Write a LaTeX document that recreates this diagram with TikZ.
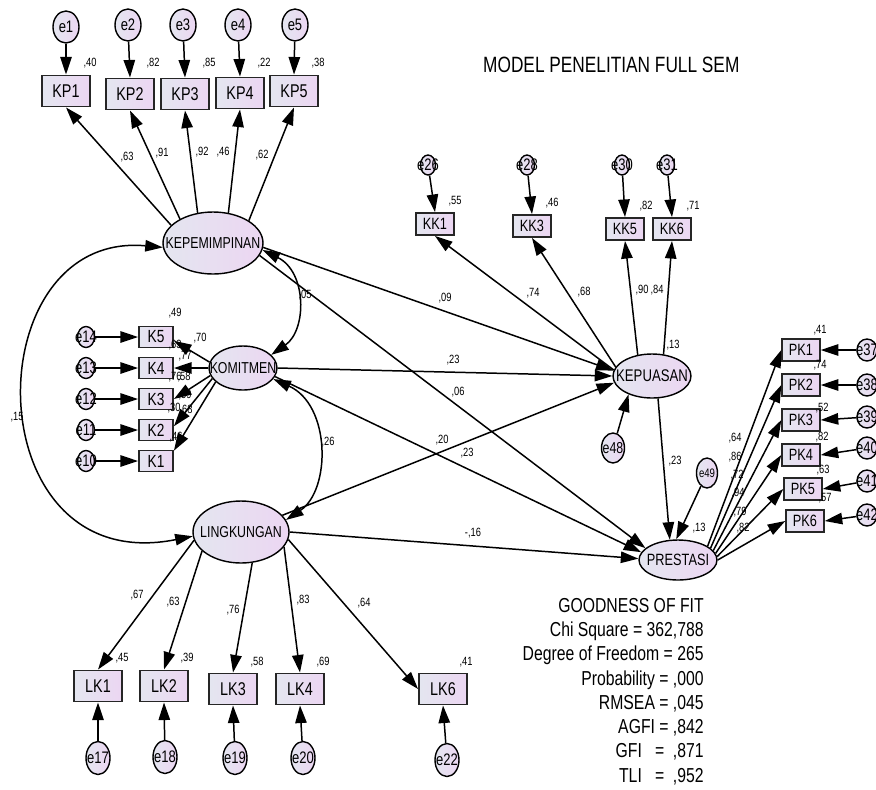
\documentclass[tikz,border=0pt]{standalone}
\usepackage{fontspec}
\setmainfont{Liberation Sans}[FakeStretch=0.78]
\usetikzlibrary{arrows.meta,positioning,shapes.geometric}

\definecolor{semL}{RGB}{228,230,240}
\definecolor{semR}{RGB}{236,214,242}
\newcommand{\nm}[1]{\makebox[0pt]{#1}}
\newcommand{\fs}[1]{\fontsize{#1}{#1}\selectfont}

\tikzset{
  lat/.style={ellipse, draw, line width=0.8pt, left color=semL, right color=semR, inner sep=0pt, font=\fs{9}},
  ind/.style={rectangle, draw=black!85, line width=1.1pt, left color=semL, right color=semR, inner sep=0pt},
  bigind/.style={ind, minimum width=0.96cm, minimum height=0.62cm, font=\fs{10.5}},
  smallind/.style={ind, minimum width=0.75cm, minimum height=0.44cm, font=\fs{9.3}},
  kind/.style={ind, minimum width=0.68cm, minimum height=0.42cm, font=\fs{10}},
  err/.style={ellipse, draw, line width=0.8pt, left color=semL, right color=semR, inner sep=0pt, minimum width=0.52cm, minimum height=0.64cm, font=\fs{9.5}},
  smallerr/.style={err, minimum width=0.34cm, minimum height=0.42cm},
  val/.style={inner sep=0pt, font=\fs{6.8}},
  reg/.style={-{Triangle[length=10pt,width=6.5pt]}, line width=0.85pt},
  cov/.style={{Triangle[length=10pt,width=6.5pt]}-{Triangle[length=10pt,width=6.5pt]}, line width=0.85pt},
}

\begin{document}
\begin{tikzpicture}[x=0.02cm, y=-0.02cm]
\clip (0,0) rectangle (876,789);

\node[anchor=west, font=\fs{12.6}] (title) at (477,65) {MODEL PENELITIAN FULL SEM};

% latent variables
\node[lat, minimum width=2cm, minimum height=1.24cm] (KEP) at (213,243) {\nm{KEPEMIMPINAN}};
\node[lat, minimum width=1.36cm, minimum height=0.88cm] (KOM) at (243,368) {\nm{KOMITMEN}};
\node[lat, minimum width=1.92cm, minimum height=1.24cm] (LING) at (241,532) {\nm{LINGKUNGAN}};
\node[lat, minimum width=1.56cm, minimum height=0.88cm, font=\fs{9.6}] (KEPU) at (652,376) {\nm{KEPUASAN}};
\node[lat, minimum width=1.56cm, minimum height=0.8cm, font=\fs{9.3}] (PRE) at (678,560) {\nm{PRESTASI}};

% kepemimpinan
\node[bigind] (KP1) at (66,91) {KP1};
\node[bigind] (KP2) at (130,94) {KP2};
\node[bigind] (KP3) at (185,94) {KP3};
\node[bigind] (KP4) at (240,93) {KP4};
\node[bigind] (KP5) at (294,91) {KP5};
\node[err] (e1) at (66,27) {\nm{e1}};
\node[err] (e2) at (128,25) {\nm{e2}};
\node[err] (e3) at (183,25) {\nm{e3}};
\node[err] (e4) at (238,25) {\nm{e4}};
\node[err] (e5) at (295,25) {\nm{e5}};
\draw[reg] (e1) -- (KP1.north);
\draw[reg] (e2) -- (KP2.north);
\draw[reg] (e3) -- (KP3.north);
\draw[reg] (e4) -- (KP4.north);
\draw[reg] (e5) -- (KP5.north);
\draw[reg] (KEP.157) -- (KP1.south);
\draw[reg] (KEP.144) -- (KP2.south);
\draw[reg] (KEP.117) -- (KP3.south);
\draw[reg] (KEP.63) -- (KP4.south);
\draw[reg] (KEP.32) -- (KP5.south);
\node[val] (rKP1) at (90,63) {,40};
\node[val] (rKP2) at (153,63) {,82};
\node[val] (rKP3) at (209,63) {,85};
\node[val] (rKP4) at (264,63) {,22};
\node[val] (rKP5) at (318,63) {,38};
\node[val] (lKP1) at (127,157) {,63};
\node[val] (lKP2) at (162,153) {,91};
\node[val] (lKP3) at (202,152) {,92};
\node[val] (lKP4) at (223,152) {,46};
\node[val] (lKP5) at (262,155) {,62};

% komitmen
\node[kind] (K5) at (156,337) {K5};
\node[kind] (K4) at (156,368) {K4};
\node[kind] (K3) at (156,399) {K3};
\node[kind] (K2) at (156,430) {K2};
\node[kind] (K1) at (156,461) {K1};
\node[smallerr] (e14) at (86,337) {\nm{e14}};
\node[smallerr] (e13) at (86,368) {\nm{e13}};
\node[smallerr] (e12) at (86,399) {\nm{e12}};
\node[smallerr] (e11) at (86,430) {\nm{e11}};
\node[smallerr] (e10) at (86,461) {\nm{e10}};
\draw[reg] (e14) -- (K5.west);
\draw[reg] (e13) -- (K4.west);
\draw[reg] (e12) -- (K3.west);
\draw[reg] (e11) -- (K2.west);
\draw[reg] (e10) -- (K1.west);
\draw[reg] (KOM.170) -- (K5.-12);
\draw[reg] (KOM.180) -- (K4.east);
\draw[reg] (KOM.193) -- (K3.east);
\draw[reg] (KOM.199) -- (K2.12);
\draw[reg] (KOM.207) -- (K1.30);
\node[val] (rK5) at (175,313) {,49};
\node[val] (lK5) at (200,338) {,70};
\node[val] (rK4) at (175,345) {,63};
\node[val] (lK4) at (185,356) {,77};
\node[val] (rK3) at (175,377) {,76};
\node[val] (lK3) at (184,377) {,58};
\node[val] (lK2) at (185,395) {,59};
\node[val] (rK2) at (174,408) {,30};
\node[val] (lK1) at (186,410) {,68};
\node[val] (rK1) at (176,437) {,46};

% lingkungan
\node[bigind] (LK1) at (98,686) {LK1};
\node[bigind] (LK2) at (164,686) {LK2};
\node[bigind] (LK3) at (233,689) {LK3};
\node[bigind] (LK4) at (300,689) {LK4};
\node[bigind] (LK6) at (443,689) {LK6};
\node[err, minimum width=0.48cm, minimum height=0.66cm] (e17) at (98,758) {\nm{e17}};
\node[err, minimum width=0.48cm, minimum height=0.66cm] (e18) at (165,757) {\nm{e18}};
\node[err, minimum width=0.48cm, minimum height=0.66cm] (e19) at (235,758) {\nm{e19}};
\node[err, minimum width=0.48cm, minimum height=0.66cm] (e20) at (303,758) {\nm{e20}};
\node[err, minimum width=0.48cm, minimum height=0.66cm] (e22) at (447,760) {\nm{e22}};
\draw[reg] (e17) -- (LK1.south);
\draw[reg] (e18) -- (LK2.south);
\draw[reg] (e19) -- (LK3.south);
\draw[reg] (e20) -- (LK4.south);
\draw[reg] (e22) -- (LK6.south);
\draw[reg] (LING.190) -- (LK1.north);
\draw[reg] (LING.206) -- (LK2.north);
\draw[reg] (LING.290) -- (LK3.north);
\draw[reg] (LING.341) -- (LK4.north);
\draw[reg] (LING.351) -- (LK6.west);
\node[val] (rLK1) at (122,658) {,45};
\node[val] (rLK2) at (187,658) {,39};
\node[val] (rLK3) at (257,662) {,58};
\node[val] (rLK4) at (323,662) {,69};
\node[val] (rLK6) at (466,662) {,41};
\node[val] (lLK1) at (137,595) {,67};
\node[val] (lLK2) at (173,602) {,63};
\node[val] (lLK3) at (233,610) {,76};
\node[val] (lLK4) at (303,600) {,83};
\node[val] (lLK6) at (364,603) {,64};

% kepuasan
\node[smallind] (KK1) at (435,224) {KK1};
\node[smallind] (KK3) at (532,226) {KK3};
\node[smallind] (KK5) at (625,229) {KK5};
\node[smallind] (KK6) at (672,229) {KK6};
\node[smallerr, minimum width=0.3cm, minimum height=0.4cm] (e26) at (428,165) {\nm{e26}};
\node[smallerr, minimum width=0.3cm, minimum height=0.4cm] (e28) at (527,165) {\nm{e28}};
\node[smallerr, minimum width=0.3cm, minimum height=0.4cm] (e30) at (622,165) {\nm{e30}};
\node[smallerr, minimum width=0.3cm, minimum height=0.4cm] (e31) at (667,165) {\nm{e31}};
\draw[reg] (e26) -- (KK1.north);
\draw[reg] (e28) -- (KK3.north);
\draw[reg] (e30) -- (KK5.north);
\draw[reg] (e31) -- (KK6.north);
\draw[reg] (KEPU.171) -- (KK1.south);
\draw[reg] (KEPU.166) -- (KK3.south);
\draw[reg] (KEPU.124) -- (KK5.south);
\draw[reg] (KEPU.62) -- (KK6.south);
\node[err, minimum width=0.46cm, minimum height=0.6cm, font=\fs{9}] (e48) at (613,448) {\nm{e48}};
\draw[reg] (e48) -- (KEPU.218);
\node[val] (rKK1) at (455,201) {,55};
\node[val] (rKK3) at (552,203) {,46};
\node[val] (rKK5) at (646,206) {,82};
\node[val] (rKK6) at (693,206) {,71};
\node[val] (lKK1) at (533,293) {,74};
\node[val] (lKK3) at (584,292) {,68};
\node[val] (lKK5) at (642,290) {,90};
\node[val] (lKK6) at (657,290) {,84};
\node[val] (rKEPU) at (673,345) {,13};

% prestasi
\node[smallind] (PK1) at (801,350) {PK1};
\node[smallind] (PK2) at (801,385) {PK2};
\node[smallind] (PK3) at (801,420) {PK3};
\node[smallind] (PK4) at (801,455) {PK4};
\node[smallind] (PK5) at (803,489) {PK5};
\node[smallind] (PK6) at (805,521) {PK6};
\node[smallerr, minimum width=0.4cm, minimum height=0.44cm] (e37) at (867,350) {\nm{e37}};
\node[smallerr, minimum width=0.4cm, minimum height=0.44cm] (e38) at (867,385) {\nm{e38}};
\node[smallerr, minimum width=0.4cm, minimum height=0.44cm] (e39) at (867,417) {\nm{e39}};
\node[smallerr, minimum width=0.4cm, minimum height=0.44cm] (e40) at (867,448) {\nm{e40}};
\node[smallerr, minimum width=0.4cm, minimum height=0.44cm] (e41) at (867,481) {\nm{e41}};
\node[smallerr, minimum width=0.4cm, minimum height=0.44cm] (e42) at (867,515) {\nm{e42}};
\draw[reg] (e37) -- (PK1.east);
\draw[reg] (e38) -- (PK2.east);
\draw[reg] (e39) -- (PK3.east);
\draw[reg] (e40) -- (PK4.east);
\draw[reg] (e41) -- (PK5.east);
\draw[reg] (e42) -- (PK6.east);
\draw[reg] (PRE.25) -- (PK1.west);
\draw[reg] (PRE.20) -- (PK2.west);
\draw[reg] (PRE.15) -- (PK3.west);
\draw[reg] (PRE.10) -- (PK4.west);
\draw[reg] (PRE.5) -- (PK5.west);
\draw[reg] (PRE.0) -- (PK6.west);
\node[err, minimum width=0.42cm, minimum height=0.6cm, font=\fs{7}] (e49) at (707,473) {\nm{e49}};
\draw[reg] (e49) -- (PRE.95);
\node[val] (rPK1) at (820,330) {,41};
\node[val] (rPK2) at (820,365) {,74};
\node[val] (rPK3) at (822,408) {,52};
\node[val] (rPK4) at (822,437) {,82};
\node[val] (rPK5) at (823,470) {,63};
\node[val] (rPK6) at (825,498) {,57};
\node[val] (lPK1) at (735,438) {,64};
\node[val] (lPK2) at (735,457) {,86};
\node[val] (lPK3) at (737,475) {,72};
\node[val] (lPK4) at (738,493) {,94};
\node[val] (lPK5) at (740,512) {,79};
\node[val] (lPK6) at (743,528) {,82};
\node[val] (rPRE) at (699,528) {,13};

% structural paths
\draw[reg] (KEP.-5) -- (KEPU.172);
\draw[reg] (KOM.east) -- (KEPU.west);
\draw[reg] (LING.22) -- (KEPU.190);
\draw[reg] (KEP.-15) -- (PRE.160);
\draw[reg] (KOM.-15) -- (PRE.168);
\draw[reg] (LING.east) -- (PRE.178);
\draw[reg] (KEPU.-75) -- (PRE.112);
\node[val] (pKEPKEPU) at (445,298) {,09};
\node[val] (pKOMKEPU) at (453,360) {,23};
\node[val] (pLINGKEPU) at (442,440) {,20};
\node[val] (pKEPPRE) at (458,392) {,06};
\node[val] (pKOMPRE) at (467,453) {,23};
\node[val] (pLINGPRE) at (473,533) {-,16};
\node[val] (pKEPUPRE) at (675,461) {,23};

% covariances
\draw[cov] (KEP.-8) .. controls (307,272) and (307,330) .. (KOM.25);
\draw[cov] (KOM.-20) .. controls (331,405) and (331,490) .. (LING.15);
\draw[cov] (KEP.185) .. controls (-26,230) and (-26,580) .. (LING.185);
\node[val] (cKEPKOM) at (305,295) {,05};
\node[val] (cKOMLING) at (328,442) {,26};
\node[val] (cKEPLING) at (17,417) {,15};

% fit
\node[anchor=north east, align=right, inner sep=0pt, font=\fontsize{11.5}{13.8}\selectfont] (gof) at (704,598) {GOODNESS OF FIT\\Chi Square = 362,788\\Degree of Freedom = 265\\Probability = ,000\\RMSEA = ,045\\AGFI = ,842\\GFI \ \ = \ ,871\\TLI \ \ = \ ,952};
\end{tikzpicture}
\end{document}
